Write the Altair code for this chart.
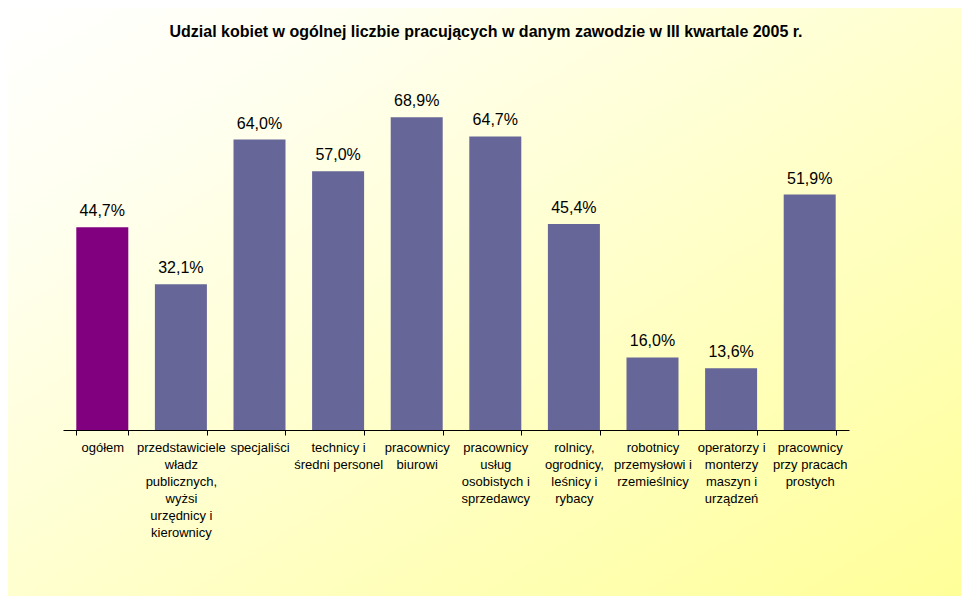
import altair as alt
import pandas as pd

categories = [
    "ogółem",
    "przedstawiciele|władz|publicznych,|wyżsi|urzędnicy i|kierownicy",
    "specjaliści",
    "technicy i|średni personel",
    "pracownicy|biurowi",
    "pracownicy|usług|osobistych i|sprzedawcy",
    "rolnicy,|ogrodnicy,|leśnicy i|rybacy",
    "robotnicy|przemysłowi i|rzemieślnicy",
    "operatorzy i|monterzy|maszyn i|urządzeń",
    "pracownicy|przy pracach|prostych",
]
values = [44.7, 32.1, 64.0, 57.0, 68.9, 64.7, 45.4, 16.0, 13.6, 51.9]
colors = ["#800080"] + ["#666699"] * 9
title_text = "Udzial kobiet w ogólnej liczbie pracujących w danym zawodzie w III kwartale 2005 r."

df = pd.DataFrame({
    "kat": categories,
    "val": values,
    "col": colors,
    "lab": [f"{v:.1f}".replace(".", ",") + "%" for v in values],
})

W, H = 786, 363
PL, PT, PR, PB = 55, 59, 113, 166

bg = alt.Chart(pd.DataFrame({"a": [0]})).mark_rect(
    fill=alt.LinearGradient(
        gradient="linear",
        stops=[alt.GradientStop(color="#FFFFFF", offset=0),
               alt.GradientStop(color="#FFFFF0", offset=0.2),
               alt.GradientStop(color="#FFFF99", offset=1)],
        x1=0, y1=0, x2=1, y2=1,
    )
).encode(
    x=alt.value(-PL), x2=alt.value(W + PR - 1),
    y=alt.value(-PT), y2=alt.value(H + PB),
)

xenc = alt.X(
    "kat:N", sort=None, title=None,
    scale=alt.Scale(paddingInner=0.34, paddingOuter=0.17),
    axis=alt.Axis(
        labelExpr="split(datum.label, '|')",
        labelAngle=0, labelFont="Liberation Sans", labelFontSize=13,
        labelColor="black", labelLineHeight=17, labelPadding=6,
        labelLimit=0, labelBaseline="top",
        tickBand="extent", tickSize=5, tickColor="black",
        domainColor="black", domainWidth=1, grid=False, zindex=1,
    ),
)
yenc = alt.Y("val:Q", scale=alt.Scale(domain=[0, 80]), axis=None)

bars = alt.Chart(df).mark_bar(size=52).encode(
    x=xenc, y=yenc, color=alt.Color("col:N", scale=None)
)
texts = alt.Chart(df).mark_text(
    baseline="alphabetic", dy=-11, font="Liberation Sans", fontSize=16, color="black"
).encode(x=alt.X("kat:N", sort=None), y=yenc, text="lab:N")

chart = alt.layer(bg, bars, texts).properties(
    width=W, height=H,
    title=alt.TitleParams(
        title_text, font="Liberation Sans", fontSize=16, fontWeight="bold",
        color="black", anchor="middle", dx=30, offset=-32,
    ),
    autosize=alt.AutoSizeParams(type="none"),
    padding={"left": PL, "top": PT, "right": PR, "bottom": PB},
).configure_view(stroke=None).configure(background="white")

chart.save("out.html", embed_options={"renderer": "svg", "actions": False})
